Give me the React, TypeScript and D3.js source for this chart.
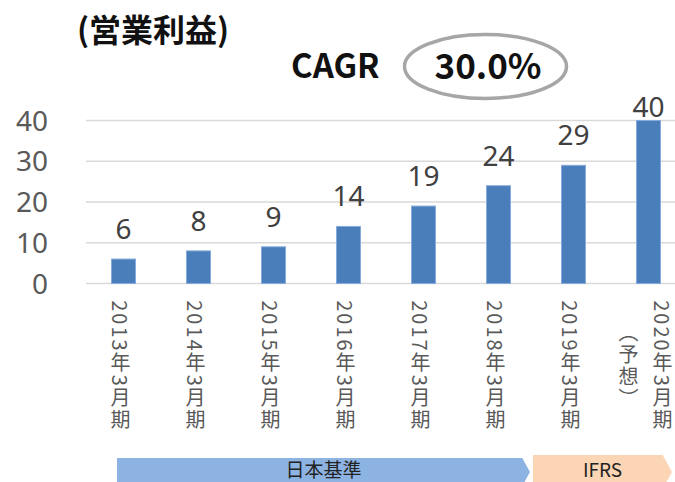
import React from 'react'
import * as d3 from 'd3'

// 営業利益 (億円)
const categories = ['2013年3月期', '2014年3月期', '2015年3月期', '2016年3月期', '2017年3月期', '2018年3月期', '2019年3月期', '2020年3月期']
const subLabels = ['', '', '', '', '', '', '', '（予想）']
const values = [6, 8, 9, 14, 19, 24, 29, 40]
const yTicks = [0, 10, 20, 30, 40]
const title = '(営業利益)'
const cagrLabel = 'CAGR'
const cagrValue = '30.0%'
const standards = [
  { name: '日本基準', from: 0, to: 6, fill: '#8db3e2' },
  { name: 'IFRS', from: 6, to: 8, fill: '#fcd5b5' },
]

const W = 675
const H = 482
const margin = { top: 120.5, left: 86, bottom: 198.5 }
const step = 75
const jp = '"Noto Sans CJK JP", "Noto Sans", sans-serif'
const num = '"Noto Sans", "Open Sans", sans-serif'

export default function App() {
  const x = d3.scaleBand<string>()
    .domain(categories)
    .range([margin.left, margin.left + step * categories.length])
    .paddingInner(0.68)
    .paddingOuter(0.34)
  const y = d3.scaleLinear().domain([0, 40]).range([H - margin.bottom, margin.top])

  // position along the category axis for the arrows below the chart
  const pos = d3.scaleLinear().domain([0, categories.length]).range([117, 669])

  const bars = values.map((v, i) => {
    const c = categories[i]
    const cx = x(c)! + x.bandwidth() / 2
    const ty = Math.max(y(v) - 20, 117)
    return (
      <g key={c}>
        <rect x={x(c)} y={y(v)} width={x.bandwidth()} height={y(0) - y(v)}
          fill="#4a7ebb" stroke="#86abdc" strokeWidth={1} />
        <text x={cx} y={ty} textAnchor="middle" fontSize={28} fill="#404040" fontFamily={num}>{v}</text>
      </g>
    )
  })

  const catLabels = categories.map((c, i) => {
    const cx = x(c)! + x.bandwidth() / 2 - 3
    const lines = subLabels[i] ? [c, subLabels[i]] : [c]
    const off = lines.length > 1 ? 17 : 0
    return lines.map((t, j) => (
      <text key={c + j} x={cx + off - j * 34} y={366} textAnchor="middle"
        fontSize={20} letterSpacing={2} fill="#595959" fontFamily={jp}
        style={{ writingMode: 'vertical-rl' } as React.CSSProperties}>{t}</text>
    ))
  })

  const arrows = standards.map((s, i) => {
    const x0 = i === 0 ? pos(s.from) : pos(s.from) + 2
    const x1 = i === 0 ? pos(s.to) - 1 : pos(s.to) + 3
    const top = i === 0 ? 458 : 455
    const mid = 472
    const bot = mid + (mid - top)
    const tip = mid - top
    const p = d3.path()
    p.moveTo(x0, top)
    p.lineTo(x1 - tip * 0.55, top)
    p.lineTo(x1, mid)
    p.lineTo(x1 - tip * 0.55, bot)
    p.lineTo(x0, bot)
    p.closePath()
    return (
      <g key={s.name}>
        <path d={p.toString()} fill={s.fill} />
        <text x={(x0 + x1) / 2} y={477} textAnchor="middle" fontSize={19} fill="#222" fontFamily={jp}>{s.name}</text>
      </g>
    )
  })

  return (
    <svg width={W} height={H} style={{ position: 'absolute', left: 0, top: 0 }}>
      <rect width={W} height={H} fill="#fff" />
      <text x={77} y={42} fontSize={32} fontWeight="bold" fill="#111" fontFamily={jp}>{title}</text>
      <text x={291} y={78} fontSize={33} fontWeight="bold" fill="#111" fontFamily={jp}>{cagrLabel}</text>
      <ellipse cx={485.5} cy={66.5} rx={81} ry={32} fill="none" stroke="#a6a6a6" strokeWidth={3.5} />
      <text x={488} y={79} textAnchor="middle" fontSize={35} fontWeight="bold" fill="#111" fontFamily={jp}>{cagrValue}</text>

      {yTicks.map(t => (
        <g key={t}>
          <line x1={margin.left} x2={W} y1={y(t)} y2={y(t)} stroke="#d9d9d9" strokeWidth={1.5} />
          <text x={48} y={y(t)} dy="0.36em" textAnchor="end" fontSize={28} fill="#595959" fontFamily={num}>{t}</text>
        </g>
      ))}
      {bars}
      {catLabels}
      {arrows}
    </svg>
  )
}
